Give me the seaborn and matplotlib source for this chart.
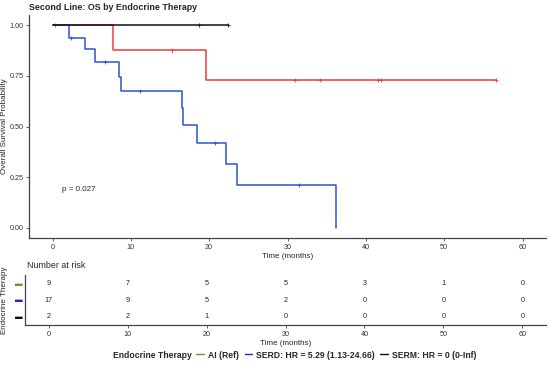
import numpy as np
import pandas as pd
import matplotlib.pyplot as plt
import seaborn as sns
from matplotlib.lines import Line2D

sns.set_theme(style="ticks")
plt.rcParams['font.family'] = ['Liberation Sans', 'DejaVu Sans']

# ---- data ----
groups = ['AI (Ref)', 'SERD', 'SERM']
legend_labels = ['AI (Ref)', 'SERD: HR = 5.29 (1.13-24.66)', 'SERM: HR = 0 (0-Inf)']

ai_time = [0, 7.7, 19.6, 56.6]
ai_surv = [1.0, 0.875, 0.729, 0.729]
ai_cens = [0.3, 15.3, 30.9, 34.2, 41.6, 41.9, 56.6]

serd_time = [0, 2.1, 4.2, 5.4, 8.5, 8.8, 16.5, 16.6, 18.5, 22.1, 23.6, 36.2]
serd_surv = [1.0, 0.938, 0.880, 0.817, 0.746, 0.675, 0.59, 0.505, 0.42, 0.315, 0.21, 0.0]
serd_cens = [2.4, 6.7, 11.2, 20.7, 31.5]

serm_time = [0, 22.4]
serm_surv = [1.0, 1.0]
serm_cens = [18.7, 22.4]

risk_times = [0, 10, 20, 30, 40, 50, 60]
risk_ai = [9, 7, 5, 5, 3, 1, 0]
risk_serd = [17, 9, 5, 2, 0, 0, 0]
risk_serm = [2, 2, 1, 0, 0, 0, 0]

p_text = "p = 0.027"

curve_cols = {'AI (Ref)': '#F23B3B', 'SERD': '#2B55D0', 'SERM': '#111111'}
key_cols = ['#9C7E2E', '#2222DD', '#111111']

# ---- tables ----
curves = {'AI (Ref)': (ai_time, ai_surv, ai_cens),
          'SERD': (serd_time, serd_surv, serd_cens),
          'SERM': (serm_time, serm_surv, serm_cens)}
step_rows, cens_rows = [], []
for g, (t, s, c) in curves.items():
    for ti, si in zip(t, s):
        step_rows.append({'time': ti, 'surv': si, 'group': g})
    for ci in c:
        idx = np.searchsorted(t, ci, side='right') - 1
        cens_rows.append({'time': ci, 'surv': s[idx], 'group': g})
steps = pd.DataFrame(step_rows)
cens = pd.DataFrame(cens_rows)

fig = plt.figure(figsize=(5.5, 3.74), dpi=100)
W, H = 550, 374
ax = fig.add_axes([29 / W, 1 - 238 / H, (546 - 29) / W, (238 - 15) / H])
axr = fig.add_axes([25 / W, 1 - 325 / H, (546 - 25) / W, (325 - 275) / H])

spine_col = '#444444'
for a in (ax, axr):
    sns.despine(ax=a)
    for sp in ('left', 'bottom'):
        a.spines[sp].set_color(spine_col)
        a.spines[sp].set_linewidth(0.9)
    a.tick_params(axis='both', labelsize=5.2, length=2, width=0.6,
                  color=spine_col, labelcolor='#333333', pad=2)

# ---- survival curves ----
for g in groups:
    sub = steps[steps['group'] == g]
    sns.lineplot(data=sub, x='time', y='surv', color=curve_cols[g], ax=ax,
                 drawstyle='steps-post', estimator=None, sort=False,
                 linewidth=1.1, legend=False)
sns.scatterplot(data=cens, x='time', y='surv', hue='group', palette=curve_cols,
                marker='+', s=9, linewidth=0.6, ax=ax, legend=False)

ax.set_xlim(-3, 63)
ax.set_ylim(-0.05, 1.05)
ax.set_xticks(risk_times)
ax.set_yticks([0, 0.25, 0.5, 0.75, 1.0])
ax.set_yticklabels(['0.00', '0.25', '0.50', '0.75', '1.00'])
ax.set_xlabel('Time (months)', fontsize=5.8, labelpad=2)
ax.set_ylabel('Overall Survival Probability', fontsize=5.8)
ax.yaxis.set_label_coords((8 - 29) / 517, 0.5)
ax.text(1.2, 0.19, p_text, fontsize=5.8, va='center', ha='left')
fig.text(29 / W, 1 - 8 / H, 'Second Line: OS by Endocrine Therapy',
         fontsize=6.4, fontweight='bold', va='center', ha='left')

# ---- risk table ----
risk = pd.DataFrame({'time': risk_times * 3,
                     'n': risk_ai + risk_serd + risk_serm,
                     'row': [0] * 7 + [1] * 7 + [2] * 7})
for _, r in risk.iterrows():
    axr.text(r['time'], r['row'], str(int(r['n'])), fontsize=5.2,
             ha='center', va='center', color='#222222')
axr.set_xlim(-3, 63)
axr.set_ylim(2.5, -0.5)
axr.set_xticks(risk_times)
axr.set_yticks([0, 1, 2])
axr.set_yticklabels(['\u25ac'] * 3, fontsize=5.5)
for lab, c in zip(axr.get_yticklabels(), key_cols):
    lab.set_color(c)
axr.tick_params(axis='y', length=0)
axr.set_xlabel('Time (months)', fontsize=5.8, labelpad=2)
axr.set_ylabel('Endocrine Therapy', fontsize=5.8)
axr.yaxis.set_label_coords((8 - 25) / 521, 0.5)
fig.text(27 / W, 1 - 266 / H, 'Number at risk', fontsize=6.4, va='center', ha='left')

# ---- legend ----
handles = [Line2D([0], [0], color=c, lw=1.0) for c in key_cols]
fig.text(113 / W, 1 - 355 / H, 'Endocrine Therapy', fontsize=6.2,
         fontweight='bold', va='center', ha='left')
fig.legend(handles, legend_labels, loc='center left', ncol=3,
           bbox_to_anchor=(193 / W, 1 - 355 / H), frameon=False,
           prop={'size': 6.2, 'weight': 'bold'}, handlelength=0.9,
           handletextpad=0.4, columnspacing=0.7, borderaxespad=0)

fig.savefig('out.png', dpi=100)
